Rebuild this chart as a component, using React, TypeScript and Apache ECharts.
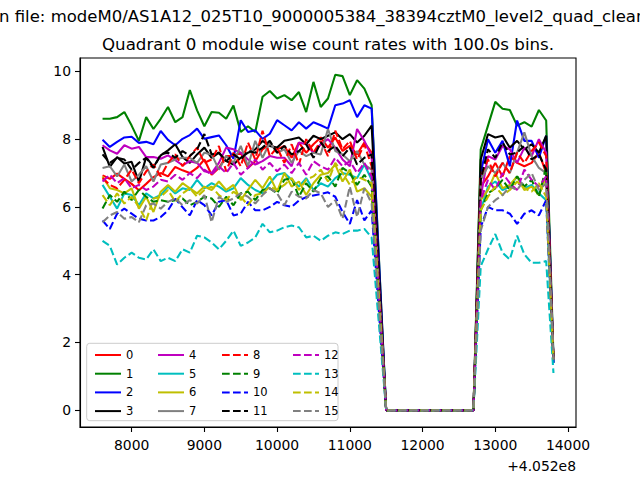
import React, { useEffect, useRef } from "react";
import * as echarts from "echarts";

// time (s) relative to offset 4.052e8
const times = [
  7600, 7700, 7800, 7900, 8000, 8100, 8200, 8300, 8400, 8500, 8600, 8700, 8800, 8900, 9000, 9100,
  9200, 9300, 9400, 9500, 9600, 9700, 9800, 9900, 10000, 10100, 10200, 10300, 10400, 10500, 10600,
  10700, 10800, 10900, 11000, 11100, 11200, 11300, 11400, 11500, 11600, 11700, 11800, 11900, 12000,
  12100, 12200, 12300, 12400, 12500, 12600, 12700, 12800, 12900, 13000, 13100, 13200, 13300, 13400,
  13500, 13600, 13700, 13800,
];

const xTicks = [8000, 9000, 10000, 11000, 12000, 13000, 14000];
const yTicks = [0, 2, 4, 6, 8, 10];
const offsetLabel = "+4.052e8";
const names = ["0", "1", "2", "3", "4", "5", "6", "7", "8", "9", "10", "11", "12", "13", "14", "15"];
const colors = ["#ff0000", "#008000", "#0000ff", "#000000", "#bf00bf", "#00bfbf", "#bfbf00", "#808080"];

const s0 = [6.93, 6.83, 6.98, 6.83, 6.68, 6.49, 6.68, 6.88, 7.0, 6.9, 7.18, 7.08, 7.0, 7.15, 7.4, 6.95, 7.15, 7.5, 7.5, 7.6, 7.15, 7.35, 7.7, 7.85, 7.7, 7.8, 7.45, 7.9, 7.6, 7.85, 8.05, 7.75, 8.05, 7.65, 7.8, 7.55, 7.9, 7.6,
  3.6, 0, 0, 0, 0, 0, 0, 0, 0, 0, 0, 0, 0, 0,
  6.6, 6.9, 7.3, 6.9, 7.5, 7.3, 7.2, 7.3, 7.6, 7.0, 1.5];
const s1 = [8.6, 8.6, 8.65, 8.8, 8.4, 7.95, 8.65, 8.3, 8.6, 8.95, 8.5, 8.65, 9.45, 8.85, 8.38, 8.8, 8.78, 8.6, 8.99, 8.21, 8.38, 8.21, 9.25, 9.42, 9.2, 9.3, 9.15, 9.39, 8.8, 9.69, 8.95, 9.2, 9.9, 9.86, 9.3, 9.74, 9.49, 9.0,
  4.5, 0, 0, 0, 0, 0, 0, 0, 0, 0, 0, 0, 0, 0,
  7.7, 8.4, 9.1, 8.9, 8.86, 8.4, 8.5, 8.37, 8.86, 8.55, 1.6];
const s2 = [7.98, 7.77, 7.92, 8.05, 8.07, 7.89, 7.92, 7.85, 8.24, 7.98, 7.82, 8.01, 8.12, 8.31, 8.01, 8.06, 8.11, 7.82, 7.42, 8.56, 8.21, 8.26, 8.01, 8.16, 8.56, 8.41, 8.26, 8.5, 8.31, 8.5, 8.41, 8.31, 9.0, 9.05, 9.15, 8.65, 9.0, 8.9,
  4.45, 0, 0, 0, 0, 0, 0, 0, 0, 0, 0, 0, 0, 0,
  7.0, 8.0, 7.6, 7.95, 7.2, 8.55, 7.95, 7.95, 7.45, 8.1, 1.5];
const s3 = [7.77, 7.18, 7.47, 7.28, 7.33, 6.74, 7.47, 7.18, 7.52, 7.67, 7.85, 7.47, 7.3, 7.55, 7.75, 7.45, 7.6, 7.35, 7.25, 7.45, 7.6, 7.7, 7.95, 7.8, 7.75, 7.95, 8.0, 8.05, 7.85, 8.1, 8.0, 8.1, 8.2, 8.0, 8.15, 7.9, 8.1, 8.4,
  4.2, 0, 0, 0, 0, 0, 0, 0, 0, 0, 0, 0, 0, 0,
  7.4, 8.15, 8.05, 8.1, 7.75, 7.95, 7.7, 7.85, 7.6, 8.1, 1.4];
const s4 = [7.82, 7.67, 7.57, 7.82, 7.72, 7.77, 7.47, 7.47, 7.42, 7.52, 7.38, 7.23, 7.35, 7.3, 7.05, 7.0, 7.3, 7.75, 7.7, 7.6, 7.4, 7.25, 7.35, 7.5, 7.45, 7.45, 7.2, 7.9, 7.85, 7.6, 7.85, 8.0, 7.75, 7.4, 7.2, 8.3, 7.95, 7.5,
  3.75, 0, 0, 0, 0, 0, 0, 0, 0, 0, 0, 0, 0, 0,
  6.3, 7.5, 7.4, 7.8, 7.7, 7.3, 7.75, 7.5, 8.0, 7.6, 1.5];
const s5 = [6.65, 6.3, 5.95, 6.4, 6.35, 6.05, 6.4, 6.25, 6.35, 6.6, 6.4, 6.55, 6.5, 6.8, 6.55, 6.7, 6.6, 6.45, 6.55, 6.85, 6.65, 6.5, 6.4, 6.7, 6.95, 7.0, 6.8, 6.6, 6.85, 6.5, 6.7, 6.6, 6.85, 7.0, 6.95, 6.85, 7.25, 6.8,
  3.4, 0, 0, 0, 0, 0, 0, 0, 0, 0, 0, 0, 0, 0,
  5.9, 6.6, 6.75, 6.5, 6.6, 6.9, 6.55, 6.65, 6.4, 6.2, 1.4];
const s6 = [6.9, 6.55, 6.5, 6.4, 6.55, 5.95, 6.3, 5.85, 6.45, 6.65, 6.45, 6.7, 6.55, 6.4, 6.6, 6.5, 6.75, 6.5, 6.65, 6.2, 6.5, 6.8, 6.55, 6.9, 6.45, 7.0, 6.6, 6.75, 6.35, 6.7, 6.95, 7.0, 7.25, 6.75, 7.1, 6.45, 6.55, 6.3,
  3.15, 0, 0, 0, 0, 0, 0, 0, 0, 0, 0, 0, 0, 0,
  6.2, 6.5, 7.0, 6.55, 6.65, 6.9, 6.5, 6.6, 6.35, 6.9, 1.5];
const s7 = [7.15, 7.2, 6.9, 7.25, 6.75, 6.95, 7.2, 6.75, 7.25, 7.3, 7.4, 7.45, 7.45, 7.3, 7.6, 7.55, 7.1, 7.5, 7.3, 7.8, 7.2, 7.95, 7.45, 7.9, 7.6, 7.7, 7.3, 7.65, 7.5, 7.6, 7.55, 8.3, 7.65, 7.55, 7.35, 7.65, 7.25, 7.1,
  3.55, 0, 0, 0, 0, 0, 0, 0, 0, 0, 0, 0, 0, 0,
  6.8, 7.2, 7.0, 7.3, 7.0, 7.6, 8.2, 7.5, 7.15, 7.0, 1.5];
const s8 = [6.85, 6.65, 6.55, 6.8, 7.1, 6.7, 7.05, 7.25, 6.9, 7.3, 7.55, 7.2, 7.5, 7.75, 7.3, 7.4, 7.8, 7.05, 7.6, 7.2, 7.9, 7.4, 8.25, 7.5, 7.75, 7.3, 7.85, 7.25, 8.0, 7.6, 7.95, 7.5, 8.25, 7.7, 7.95, 7.4, 7.85, 7.2,
  3.6, 0, 0, 0, 0, 0, 0, 0, 0, 0, 0, 0, 0, 0,
  6.9, 7.4, 6.9, 7.3, 7.0, 7.6, 7.3, 7.65, 7.9, 7.5, 1.5];
const s9 = [5.95, 6.35, 6.15, 6.45, 6.2, 6.5, 6.3, 6.15, 6.2, 6.15, 6.2, 6.25, 6.05, 6.15, 6.3, 6.25, 6.0, 6.3, 6.05, 6.4, 6.45, 6.2, 6.5, 6.55, 6.4, 6.8, 6.85, 6.3, 6.7, 6.45, 6.85, 6.9, 6.6, 7.15, 7.0, 6.65, 6.95, 6.6,
  3.3, 0, 0, 0, 0, 0, 0, 0, 0, 0, 0, 0, 0, 0,
  5.9, 6.4, 6.55, 6.8, 6.5, 6.9, 6.6, 6.8, 6.3, 7.2, 1.5];
const s10 = [5.6, 5.35, 5.8, 5.95, 5.8, 5.65, 5.6, 5.6, 5.7, 5.9, 6.24, 5.99, 5.75, 6.2, 6.05, 5.75, 6.15, 6.2, 5.75, 5.8, 6.15, 5.9, 5.9, 6.0, 6.15, 6.05, 6.0, 6.19, 6.29, 6.34, 6.38, 6.43, 6.3, 5.85, 5.5, 6.2, 5.6, 5.9,
  2.9, 0, 0, 0, 0, 0, 0, 0, 0, 0, 0, 0, 0, 0,
  5.4, 6.0, 5.9, 5.9, 5.8, 5.5, 5.8, 5.9, 5.75, 6.2, 1.4];
const s11 = [7.55, 7.3, 7.45, 7.4, 7.1, 7.3, 7.45, 7.15, 7.55, 7.6, 7.45, 7.65, 7.5, 7.7, 8.15, 7.55, 7.6, 7.35, 7.55, 7.4, 7.65, 7.6, 7.75, 7.95, 7.6, 7.8, 7.55, 7.65, 7.85, 7.45, 7.9, 7.65, 7.8, 7.5, 7.75, 7.25, 7.45, 7.55,
  3.75, 0, 0, 0, 0, 0, 0, 0, 0, 0, 0, 0, 0, 0,
  6.8, 7.7, 7.45, 7.9, 7.55, 7.6, 7.8, 7.4, 7.55, 7.1, 1.5];
const s12 = [6.75, 6.95, 6.7, 6.85, 6.55, 6.65, 6.5, 6.6, 6.8, 6.75, 6.95, 6.8, 7.0, 6.85, 7.1, 6.95, 7.2, 7.0, 7.3, 6.95, 7.15, 7.4, 7.1, 7.3, 7.05, 7.25, 7.0, 7.3, 6.95, 7.35, 7.2, 7.1, 7.45, 7.2, 7.35, 7.0, 7.3, 6.9,
  3.45, 0, 0, 0, 0, 0, 0, 0, 0, 0, 0, 0, 0, 0,
  6.2, 6.8, 6.5, 7.0, 6.7, 6.5, 7.1, 6.8, 6.6, 6.9, 1.5];
const s13 = [5.0, 4.85, 4.3, 4.5, 4.65, 4.5, 4.45, 4.75, 4.4, 4.5, 4.4, 4.75, 4.65, 5.15, 5.1, 4.95, 4.75, 5.0, 5.3, 4.85, 4.95, 5.1, 5.5, 5.25, 5.3, 5.4, 5.45, 5.4, 5.1, 5.15, 5.0, 5.15, 5.25, 5.2, 5.3, 5.3, 5.35, 5.1,
  2.55, 0, 0, 0, 0, 0, 0, 0, 0, 0, 0, 0, 0, 0,
  4.25, 4.75, 5.2, 4.65, 4.45, 5.15, 4.6, 4.35, 4.35, 4.4, 1.1];
const s14 = [6.35, 6.05, 6.4, 6.1, 6.3, 6.0, 5.6, 6.25, 6.3, 6.5, 6.15, 6.4, 6.55, 6.3, 6.5, 6.6, 6.35, 6.2, 6.45, 6.3, 6.05, 6.35, 6.4, 6.6, 6.5, 6.65, 6.85, 6.5, 6.8, 6.9, 7.1, 6.75, 7.3, 7.0, 6.65, 6.9, 6.8, 6.7,
  3.35, 0, 0, 0, 0, 0, 0, 0, 0, 0, 0, 0, 0, 0,
  5.9, 6.3, 6.6, 6.35, 6.5, 6.75, 6.55, 6.45, 6.7, 6.3, 1.5];
const s15 = [5.55, 5.75, 5.85, 5.65, 5.7, 5.55, 6.05, 6.1, 5.95, 6.15, 6.25, 6.05, 6.2, 6.1, 6.35, 5.55, 6.3, 6.15, 6.25, 6.4, 6.3, 6.1, 6.35, 6.55, 6.4, 6.05, 6.45, 6.3, 6.25, 6.5, 6.4, 6.0, 6.2, 5.65, 6.6, 5.7, 6.55, 6.1,
  3.05, 0, 0, 0, 0, 0, 0, 0, 0, 0, 0, 0, 0, 0,
  5.3, 6.0, 6.2, 6.35, 6.6, 6.5, 6.8, 7.0, 6.5, 6.7, 1.5];

const allSeries = [s0, s1, s2, s3, s4, s5, s6, s7, s8, s9, s10, s11, s12, s13, s14, s15];

const FONT = "DejaVu Sans";

export default function App() {
  const ref = useRef<HTMLDivElement>(null);
  useEffect(() => {
    if (!ref.current) return;
    const chart = echarts.init(ref.current, undefined, { renderer: "svg" });
    const series = allSeries.map((vals, k) => ({
      name: names[k],
      type: "line",
      data: times.map((t, i) => [t, vals[i]]),
      showSymbol: false,
      symbol: "none",
      lineStyle: {
        color: colors[k % 8],
        width: 2.08,
        type: k >= 8 ? [7.7, 3.3] : "solid",
      },
      itemStyle: { color: colors[k % 8] },
      z: 2,
    }));
    const legendCols = [89, 152, 216, 287];
    const legends = legendCols.map((left, c) => ({
      orient: "vertical",
      left,
      top: 344,
      itemWidth: 26,
      itemHeight: 14,
      itemGap: 6.7,
      selectedMode: false,
      z: 12,
      itemStyle: { color: "rgba(0,0,0,0)", borderWidth: 0, opacity: 0 },
      textStyle: { fontFamily: FONT, fontSize: 11.5, color: "#000" },
      data: names.slice(c * 4, c * 4 + 4),
    }));
    chart.setOption({
      animation: false,
      backgroundColor: "#ffffff",
      grid: {
        left: 80,
        right: 64,
        top: 58,
        bottom: 53,
        show: true,
        borderColor: "#000",
        borderWidth: 1.1,
        backgroundColor: "transparent",
      },
      xAxis: {
        type: "value",
        min: 7290,
        max: 14110,
        axisLine: { show: true, onZero: false, lineStyle: { color: "#000", width: 1.1 } },
        axisTick: { show: true, length: 5, lineStyle: { color: "#000", width: 1.1 }, customValues: xTicks },
        axisLabel: {
          customValues: xTicks,
          formatter: (v: number) => String(v),
          fontFamily: FONT,
          fontSize: 13.9,
          color: "#000",
          margin: 11,
        },
        splitLine: { show: false },
      },
      yAxis: {
        type: "value",
        min: -0.495,
        max: 10.395,
        axisLine: { show: true, onZero: false, lineStyle: { color: "#000", width: 1.1 } },
        axisTick: { show: true, length: 5, lineStyle: { color: "#000", width: 1.1 }, customValues: yTicks },
        axisLabel: {
          customValues: yTicks,
          formatter: (v: number) => String(v),
          fontFamily: FONT,
          fontSize: 13.9,
          color: "#000",
          margin: 9,
        },
        splitLine: { show: false },
      },
      legend: legends,
      graphic: [
        {
          type: "rect",
          shape: { x: 86.7, y: 343.3, width: 251.3, height: 77.4, r: 3 },
          style: { fill: "rgba(255,255,255,0.8)", stroke: "#cccccc", lineWidth: 1 },
          z: 10,
        },
        {
          type: "text",
          x: -1,
          y: 16,
          style: {
            text: "n file: modeM0/AS1A12_025T10_9000005384_38394cztM0_level2_quad_clean",
            font: `16.5px '${FONT}'`,
            fill: "#000",
            textAlign: "left",
            textVerticalAlign: "middle",
          },
        },
        {
          type: "text",
          x: 328,
          y: 44,
          style: {
            text: "Quadrant 0 module wise count rates with 100.0s bins.",
            font: `16.67px '${FONT}'`,
            fill: "#000",
            textAlign: "center",
            textVerticalAlign: "middle",
          },
        },
        {
          type: "text",
          x: 576,
          y: 466,
          style: {
            text: offsetLabel,
            font: `13.9px '${FONT}'`,
            fill: "#000",
            textAlign: "right",
            textVerticalAlign: "middle",
          },
        },
      ],
      series,
    });
    return () => chart.dispose();
  }, []);
  return (
    <div
      ref={ref}
      style={{ position: "fixed", left: 0, top: 0, width: 640, height: 480, background: "#fff" }}
    />
  );
}
